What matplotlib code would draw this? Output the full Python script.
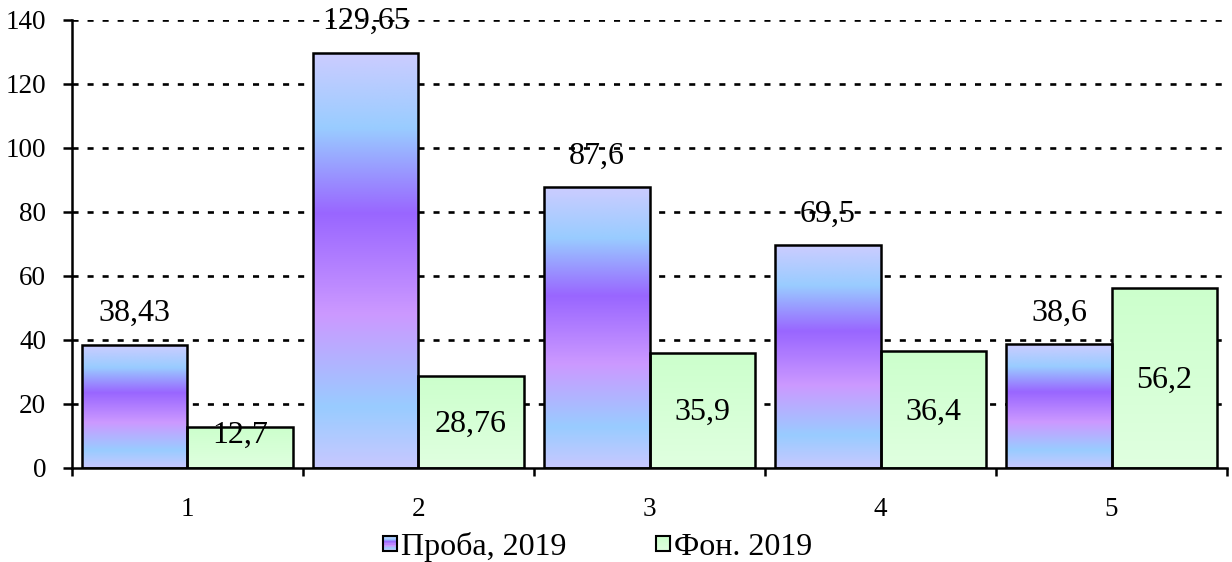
import matplotlib
matplotlib.use("Agg")
import matplotlib.pyplot as plt
import numpy as np
from matplotlib.colors import LinearSegmentedColormap
from matplotlib.patches import Rectangle
from matplotlib.legend_handler import HandlerBase

plt.rcParams['font.family'] = ['Liberation Serif', 'DejaVu Serif']

categories = ['1', '2', '3', '4', '5']
proba = [38.43, 129.65, 87.6, 69.5, 38.6]
fon = [12.7, 28.76, 35.9, 36.4, 56.2]
labels = ['Проба, 2019', 'Фон. 2019']

# vertical gradients, listed bottom -> top
proba_cmap = LinearSegmentedColormap.from_list('proba', [
    (0.0, '#c8c8ff'), (0.145, '#99ccff'), (0.37, '#cc99ff'),
    (0.614, '#9966ff'), (0.82, '#99ccff'), (1.0, '#ccccff')])
fon_cmap = LinearSegmentedColormap.from_list('fon', [(0.0, '#e0ffe0'), (1.0, '#ccffcc')])

width = 0.455
x = np.arange(1, len(categories) + 1)

fig = plt.figure(figsize=(12.32, 5.62), dpi=100)
ax = fig.add_axes([0.0584, 0.168, 0.9376, 0.7965])

grad = np.linspace(0, 1, 256).reshape(-1, 1)


def gradient_bars(xs, heights, cmap):
    bars = ax.bar(xs, heights, width, align='edge', facecolor='none',
                  edgecolor='black', linewidth=1.8, zorder=3)
    for b in bars:
        x0, y0 = b.get_x(), b.get_y()
        w, h = b.get_width(), b.get_height()
        im = ax.imshow(grad, cmap=cmap, origin='lower', aspect='auto',
                       extent=[x0, x0 + w, y0, y0 + h], zorder=2)
        im.set_clip_path(b)
    return bars


gradient_bars(x - width, proba, proba_cmap)
gradient_bars(x, fon, fon_cmap)
ax.set_aspect('auto')
ax.set_xlim(0.5, 5.5)
ax.set_ylim(0, 140)

# value labels
for xi, v in zip(x - width / 2, proba):
    ax.annotate(f'{v:g}'.replace('.', ','), (xi, v), xytext=(0, 22.5),
                textcoords='offset points', ha='center', va='center',
                fontsize=23, zorder=5)
for xi, v in zip(x + width / 2, fon):
    ax.text(xi, max(v / 2 - 0.8, 10.2), f'{v:g}'.replace('.', ','),
            ha='center', va='center', fontsize=23, zorder=5)

# grid
for yv in range(20, 141, 20):
    ax.axhline(yv, color='black', linewidth=1.9, linestyle=(0, (2.3, 3.4)),
               zorder=1)

ax.spines['top'].set_visible(False)
ax.spines['right'].set_visible(False)
ax.spines['left'].set_linewidth(1.8)
ax.spines['bottom'].set_linewidth(1.8)
ax.spines['bottom'].set_zorder(4)

ax.set_yticks(range(0, 141, 20))
ax.tick_params(axis='y', direction='out', length=6.5, width=1.8, labelsize=19.5, pad=12)
ax.set_xticks(np.arange(0.5, 5.6, 1))
ax.set_xticklabels([])
ax.set_xticks(x, minor=True)
ax.set_xticklabels(categories, minor=True)
ax.tick_params(axis='x', which='major', direction='out', length=6, width=1.8)
ax.tick_params(axis='x', which='minor', length=0, labelsize=19.5, pad=21)


class GradientHandler(HandlerBase):
    def __init__(self, cmap):
        super().__init__()
        self.cmap = cmap

    def create_artists(self, legend, orig_handle, xdescent, ydescent,
                       width, height, fontsize, trans):
        side = min(width, height)
        x0 = -xdescent + (width - side) / 2
        y0 = -ydescent + (height - side) / 2
        n = 12
        arts = []
        for i in range(n):
            arts.append(Rectangle((x0, y0 + side * i / n), side, side / n + 0.2,
                                  facecolor=self.cmap((i + 0.5) / n),
                                  edgecolor='none', transform=trans))
        arts.append(Rectangle((x0, y0), side, side, facecolor='none',
                              edgecolor='black', linewidth=1.5, transform=trans))
        return arts


h1 = Rectangle((0, 0), 1, 1)
h2 = Rectangle((0, 0), 1, 1)
fig.legend([h1, h2], labels, loc='center', bbox_to_anchor=(0.485, 0.027),
           ncol=2, frameon=False, fontsize=23, handlelength=0.45,
           handleheight=0.45, handletextpad=0.12, columnspacing=2.8,
           handler_map={h1: GradientHandler(proba_cmap), h2: GradientHandler(fon_cmap)})

fig.savefig('out.png', dpi=100)
